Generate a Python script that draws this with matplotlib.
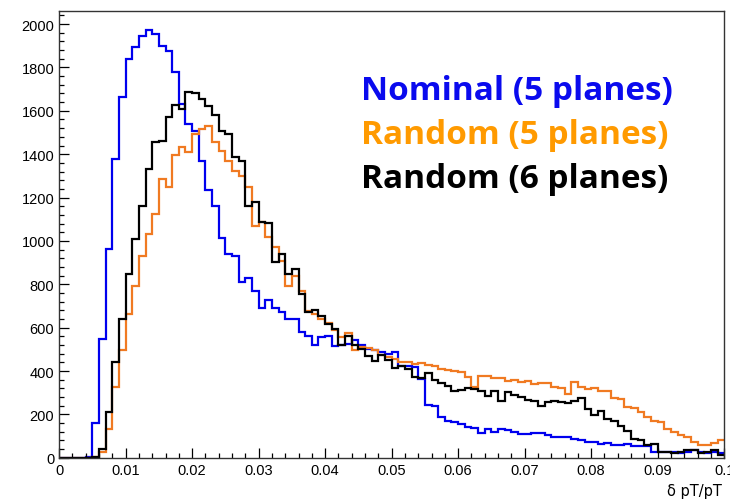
import numpy as np
import matplotlib
matplotlib.use("Agg")
import matplotlib.pyplot as plt
from matplotlib.ticker import MultipleLocator

# 100 bins of 0.001 in delta pT / pT, counts
edges = np.linspace(0.0, 0.1, 101)

nominal_5 = [0, 0, 0, 0, 5, 160, 550, 963, 1378, 1662,
             1839, 1893, 1946, 1974, 1954, 1900, 1874, 1777, 1631, 1539,
             1508, 1370, 1236, 1160, 1012, 942, 931, 812, 829, 771,
             691, 730, 691, 673, 641, 641, 579, 561, 518, 556,
             560, 514, 520, 525, 545, 521, 502, 495, 487, 479,
             490, 425, 425, 420, 364, 244, 240, 187, 172, 165,
             155, 140, 138, 116, 132, 120, 132, 128, 119, 108,
             110, 115, 115, 106, 95, 95, 95, 88, 80, 75,
             72, 64, 69, 60, 57, 64, 54, 54, 54, 29,
             26, 29, 26, 23, 29, 34, 29, 23, 26, 23]

random_5 = [0, 0, 0, 0, 0, 3, 27, 134, 326, 495,
            663, 794, 929, 1032, 1124, 1286, 1247, 1396, 1432, 1409,
            1493, 1515, 1531, 1455, 1416, 1370, 1324, 1301, 1247, 1070,
            1086, 1017, 971, 909, 794, 840, 771, 679, 663, 641,
            620, 590, 556, 574, 498, 510, 505, 498, 475, 464,
            456, 440, 440, 432, 435, 430, 425, 410, 406, 402,
            394, 372, 326, 379, 379, 366, 367, 352, 360, 350,
            355, 340, 345, 345, 328, 320, 296, 349, 328, 318,
            320, 310, 308, 274, 272, 235, 230, 210, 187, 172,
            164, 134, 118, 103, 95, 75, 60, 60, 69, 82]

random_6 = [0, 0, 0, 0, 0, 5, 41, 210, 441, 641,
            848, 1009, 1163, 1332, 1455, 1462, 1570, 1627, 1608, 1688,
            1682, 1654, 1620, 1581, 1508, 1493, 1385, 1370, 1163, 1178,
            1086, 1083, 905, 940, 848, 871, 756, 671, 683, 656,
            618, 596, 521, 560, 520, 500, 470, 448, 472, 452,
            415, 424, 410, 372, 370, 390, 358, 345, 330, 310,
            314, 322, 318, 310, 287, 310, 260, 305, 290, 282,
            268, 262, 241, 256, 264, 259, 253, 264, 274, 226,
            198, 218, 180, 172, 149, 126, 88, 80, 57, 64,
            29, 29, 23, 26, 34, 38, 23, 29, 34, 15]

labels = ["Nominal (5 planes)", "Random (5 planes)", "Random (6 planes)"]
line_colors = ["#0000ee", "#f07a22", "#000000"]
text_colors = ["#0a0aee", "#ff9a00", "#000000"]

fig = plt.figure(figsize=(7.3, 5.02), dpi=100)
ax = fig.add_axes([0.081, 0.086, 0.911, 0.890])

for vals, c in zip([nominal_5, random_5, random_6], line_colors):
    ax.stairs(vals, edges, color=c, linewidth=1.6, baseline=None)

ax.set_xlim(0, 0.1)
ax.set_ylim(0, 2060)

xt = np.arange(0, 0.1001, 0.01)
ax.set_xticks(xt)
ax.set_xticklabels(["0"] + ["%.2f" % v for v in xt[1:-1]] + ["0.1"])
ax.xaxis.set_minor_locator(MultipleLocator(0.002))
ax.yaxis.set_major_locator(MultipleLocator(200))
ax.yaxis.set_minor_locator(MultipleLocator(40))

ax.tick_params(which="both", direction="in", top=False, right=False,
               labelsize=10.5, width=0.9)
ax.tick_params(which="major", length=7)
ax.tick_params(which="minor", length=3.5)
for lab in ax.get_xticklabels() + ax.get_yticklabels():
    lab.set_family("Liberation Sans")
for sp in ax.spines.values():
    sp.set_color("#333333")
    sp.set_linewidth(1.0)

fig.text(0.989, 0.006, "δ pT/pT", ha="right", va="bottom",
         fontsize=10.5, family="DejaVu Sans")

for i, (lab, c) in enumerate(zip(labels, text_colors)):
    fig.text(0.495, 0.818 - i * 0.088, lab, color=c, fontsize=24,
             fontweight="bold", family="Open Sans", ha="left", va="center")

fig.savefig("out.png", dpi=100)
